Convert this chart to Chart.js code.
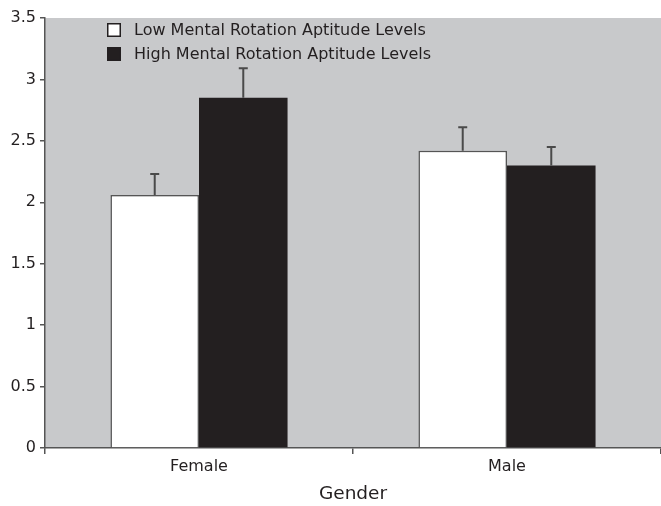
<!DOCTYPE html>
<html>
<head>
<meta charset="utf-8">
<script src="https://cdn.jsdelivr.net/npm/chart.js@4/dist/chart.umd.min.js"></script>
<style>
  html, body { margin: 0; padding: 0; background: #fff; }
  #wrap { width: 661px; height: 506px; }
</style>
</head>
<body>
<div id="wrap"><canvas id="myBarGraph" width="661" height="506"></canvas></div>
<script>
var categories = ["Female", "Male"];
var lowValues = [2.06, 2.42];
var lowErrors = [0.17, 0.19];
var highValues = [2.85, 2.30];
var highErrors = [0.24, 0.15];
var yTicks = [0, 0.5, 1, 1.5, 2, 2.5, 3, 3.5];

var fontFamily = "'DejaVu Sans', Verdana, sans-serif";

// gray plot background
var plotBackground = {
  id: "plotBackground",
  beforeDraw: function (chart) {
    var a = chart.chartArea, ctx = chart.ctx;
    ctx.save();
    ctx.fillStyle = "#c8c9cb";
    ctx.fillRect(a.left, a.top, a.right - a.left, a.bottom - a.top);
    ctx.restore();
  }
};

// upward error bars
var errorBars = {
  id: "errorBars",
  afterDatasetsDraw: function (chart) {
    var ctx = chart.ctx, y = chart.scales.y;
    chart.data.datasets.forEach(function (ds, i) {
      var meta = chart.getDatasetMeta(i);
      meta.data.forEach(function (bar, j) {
        var top = y.getPixelForValue(ds.data[j] + ds.errors[j]);
        ctx.save();
        ctx.strokeStyle = "#4a4a4a";
        ctx.lineWidth = 2;
        ctx.beginPath();
        ctx.moveTo(bar.x, bar.y);
        ctx.lineTo(bar.x, top);
        ctx.moveTo(bar.x - 4.5, top);
        ctx.lineTo(bar.x + 4.5, top);
        ctx.stroke();
        ctx.restore();
      });
    });
  }
};

// legend inside the plot, top left
var innerLegend = {
  id: "innerLegend",
  afterDraw: function (chart) {
    var ctx = chart.ctx;
    ctx.save();
    ctx.font = "16px " + fontFamily;
    ctx.textBaseline = "middle";
    chart.data.datasets.forEach(function (ds, i) {
      var cy = 30 + i * 24;
      ctx.fillStyle = ds.backgroundColor;
      ctx.fillRect(107, cy - 7, 14, 14);
      ctx.strokeStyle = "#231f20";
      ctx.lineWidth = 1.5;
      ctx.strokeRect(107.75, cy - 6.25, 12.5, 12.5);
      ctx.fillStyle = "#231f20";
      ctx.fillText(ds.label, 134, cy + 1);
    });
    ctx.restore();
  }
};

new Chart("myBarGraph", {
  type: "bar",
  data: {
    labels: categories,
    datasets: [{
      label: "Low Mental Rotation Aptitude Levels",
      data: lowValues,
      errors: lowErrors,
      backgroundColor: "#ffffff",
      borderColor: "#555555",
      borderWidth: 1.5,
      categoryPercentage: 0.575,
      barPercentage: 1
    }, {
      label: "High Mental Rotation Aptitude Levels",
      data: highValues,
      errors: highErrors,
      backgroundColor: "#231f20",
      borderColor: "#231f20",
      borderWidth: 0,
      categoryPercentage: 0.575,
      barPercentage: 1
    }]
  },
  options: {
    responsive: false,
    animation: false,
    layout: { padding: { top: 18, right: 0, left: 0, bottom: 0 } },
    plugins: {
      legend: { display: false },
      tooltip: { enabled: false }
    },
    scales: {
      x: {
        offset: true,
        grid: {
          display: true,
          offset: true,
          drawOnChartArea: false,
          drawTicks: true,
          tickLength: 6,
          color: "#555555",
          lineWidth: 1.5
        },
        border: { display: true, color: "#555555", width: 1.5 },
        ticks: {
          color: "#231f20",
          font: { family: fontFamily, size: 16 },
          padding: 3
        },
        title: {
          display: true,
          text: "Gender",
          color: "#231f20",
          font: { family: fontFamily, size: 18.5 },
          padding: { top: 4, bottom: 1 }
        },
        afterFit: function (scale) { scale.height = 58; }
      },
      y: {
        min: 0,
        max: 3.5,
        afterBuildTicks: function (scale) {
          scale.ticks = yTicks.map(function (v) { return { value: v }; });
        },
        grid: {
          display: true,
          drawOnChartArea: false,
          drawTicks: true,
          tickLength: 5,
          color: "#555555",
          lineWidth: 1.5
        },
        border: { display: true, color: "#555555", width: 1.5 },
        ticks: {
          color: "#231f20",
          font: { family: fontFamily, size: 16 },
          padding: 4,
          callback: function (v) { return String(v); }
        },
        afterFit: function (scale) { scale.width = 45; }
      }
    }
  },
  plugins: [plotBackground, errorBars, innerLegend]
});
</script>
</body>
</html>
